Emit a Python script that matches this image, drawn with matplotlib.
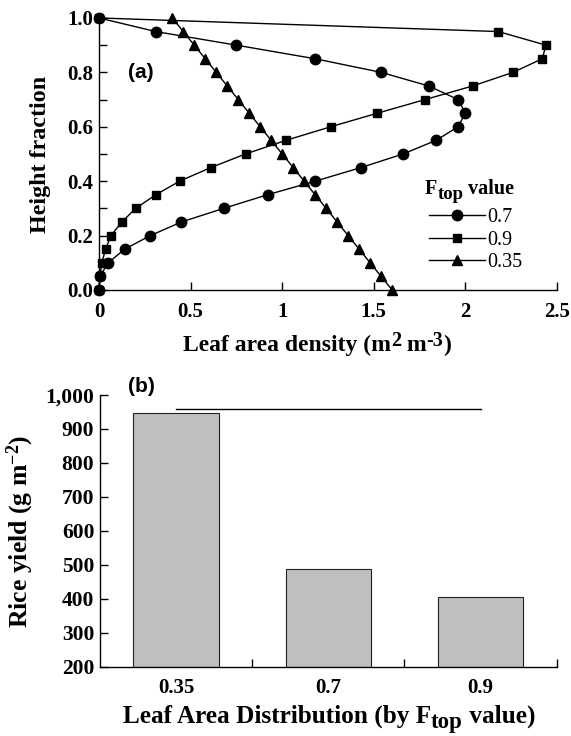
import matplotlib
matplotlib.use("Agg")
import matplotlib.pyplot as plt
from matplotlib.ticker import FixedLocator, FuncFormatter

# -----------------------------
# DATA
# -----------------------------
height = [0.0, 0.05, 0.1, 0.15, 0.2, 0.25, 0.3, 0.35, 0.4, 0.45, 0.5,
          0.55, 0.6, 0.65, 0.7, 0.75, 0.8, 0.85, 0.9, 0.95, 1.0]
lad_07 = [0.0, 0.005, 0.05, 0.14, 0.28, 0.45, 0.68, 0.92, 1.18, 1.43, 1.66,
          1.84, 1.96, 2.0, 1.96, 1.80, 1.54, 1.18, 0.75, 0.31, 0.0]
lad_09 = [0.0, 0.005, 0.015, 0.036, 0.065, 0.125, 0.2, 0.31, 0.44, 0.61, 0.80,
          1.02, 1.265, 1.52, 1.78, 2.04, 2.26, 2.42, 2.44, 2.18, 0.0]
lad_035 = [1.60, 1.54, 1.48, 1.42, 1.36, 1.30, 1.24, 1.18, 1.12, 1.06, 1.00,
           0.94, 0.88, 0.82, 0.76, 0.70, 0.64, 0.58, 0.52, 0.46, 0.40]
series_labels = ["0.7", "0.9", "0.35"]

x_ticks_a = [0, 0.5, 1, 1.5, 2, 2.5]
x_ticklabels_a = ["0", "0.5", "1", "1.5", "2", "2.5"]

categories = ["0.35", "0.7", "0.9"]
yield_vals = [946, 488, 406]
sig_line_y = 960

# -----------------------------
# STYLE
# -----------------------------
plt.rcParams['font.family'] = ['Liberation Serif', 'DejaVu Serif']
plt.rcParams['font.weight'] = 'bold'
plt.rcParams['mathtext.fontset'] = 'custom'
plt.rcParams['mathtext.rm'] = 'Liberation Serif:bold'
plt.rcParams['mathtext.bf'] = 'Liberation Serif:bold'
plt.rcParams['mathtext.it'] = 'Liberation Serif:bold'
plt.rcParams['axes.linewidth'] = 1.0


def chained_text(ax, x, y, pieces):
    # pieces: (text, fontsize, vertical shift in points)
    txt, size, dy0 = pieces[0]
    prev = ax.text(x, y, txt, transform=ax.transAxes, fontsize=size,
                   fontweight='bold', va='baseline', ha='left', clip_on=False)
    prev_dy = dy0
    for txt, size, dy in pieces[1:]:
        prev = ax.annotate(txt, xy=(1, 0), xycoords=prev,
                           xytext=(0, dy - prev_dy), textcoords='offset points',
                           fontsize=size, fontweight='bold', va='bottom',
                           ha='left', annotation_clip=False)
        prev_dy = dy


fig = plt.figure(figsize=(5.71, 7.36), dpi=100)
ax1 = fig.add_axes([0.1734, 0.606, 0.802, 0.3696])
ax2 = fig.add_axes([0.175, 0.0938, 0.800, 0.3696])

# -----------------------------
# PANEL (a)
# -----------------------------
kw = dict(color='black', lw=1.0, clip_on=False)
ax1.plot(lad_07, height, marker='o', ms=7.5, label=series_labels[0], **kw)
ax1.plot(lad_09, height, marker='s', ms=6, label=series_labels[1], **kw)
ax1.plot(lad_035, height, marker='^', ms=7.5, label=series_labels[2], **kw)

ax1.set_xlim(0, 2.5)
ax1.set_ylim(0, 1.0)
for s in ['top', 'right']:
    ax1.spines[s].set_visible(False)

ax1.xaxis.set_major_locator(FixedLocator(x_ticks_a))
ax1.set_xticklabels(x_ticklabels_a)
ax1.yaxis.set_major_locator(FixedLocator([0, 0.2, 0.4, 0.6, 0.8, 1.0]))
ax1.yaxis.set_minor_locator(FixedLocator([0.1, 0.3, 0.5, 0.7, 0.9]))
ax1.yaxis.set_major_formatter(FuncFormatter(lambda v, p: f"{v:.1f}"))
ax1.tick_params(axis='x', which='major', direction='in', length=6, width=1,
                labelsize=15, pad=9)
ax1.tick_params(axis='y', which='both', direction='in', length=6, width=1,
                labelsize=15, pad=4)

# x label with raised exponents
chained_text(ax1, 0.183, -0.226, [("Leaf area density (m", 17, 0),
                                  ("2", 14.5, 4), (" m", 17, 0),
                                  ("-3", 14.5, 4), (")", 17, 0)])
ax1.set_ylabel("Height fraction", fontsize=17.3, fontweight='bold', va='center')
ax1.yaxis.set_label_coords(-0.127, 0.5)

ax1.text(0.063, 0.80, "(a)", transform=ax1.transAxes, fontsize=15,
         fontweight='bold', family='Liberation Sans', va='center')

leg = ax1.legend(loc='upper left', bbox_to_anchor=(0.72, 0.30),
                 frameon=False, handlelength=2.8,
                 handletextpad=0.1, labelspacing=0.15, borderpad=0,
                 borderaxespad=0,
                 prop={'family': 'Liberation Serif', 'weight': 'normal',
                       'size': 14.5})
chained_text(ax1, 0.712, 0.353, [("F", 14.5, 0), ("top", 13.5, -3),
                                 (" value", 14.5, 0)])

# -----------------------------
# PANEL (b)
# -----------------------------
xpos = list(range(len(categories)))
ax2.bar(xpos, [v - 200 for v in yield_vals], bottom=200, width=0.56,
        color='#bfbfbf', edgecolor='#222222', linewidth=0.8, zorder=2)
ax2.plot([xpos[0], xpos[-1]], [sig_line_y, sig_line_y], color='black',
         lw=1.0, clip_on=False)

ax2.set_xlim(-0.5, 2.5)
ax2.set_ylim(200, 1000)
for s in ['top', 'right']:
    ax2.spines[s].set_visible(False)

ax2.set_xticks(xpos)
ax2.set_xticklabels(categories)
ax2.xaxis.set_minor_locator(FixedLocator([0.5, 1.5, 2.5]))
ax2.tick_params(axis='x', which='major', length=0, labelsize=15, pad=8)
ax2.tick_params(axis='x', which='minor', direction='in', length=6, width=1)
ax2.yaxis.set_major_locator(FixedLocator(list(range(200, 1001, 100))))
ax2.yaxis.set_major_formatter(FuncFormatter(lambda v, p: f"{int(v):,}"))
ax2.tick_params(axis='y', which='major', direction='in', length=6, width=1,
                labelsize=15.5, pad=4)

chained_text(ax2, 0.050, -0.206, [("Leaf Area Distribution (by F", 18.2, 0),
                                  ("top", 16.5, -3.5), (" value)", 18.2, 0)])
ax2.set_ylabel(r"Rice yield (g m$^{-2}$)", fontsize=18.5, fontweight='bold',
               va='center')
ax2.yaxis.set_label_coords(-0.175, 0.5)

ax2.text(0.061, 1.03, "(b)", transform=ax2.transAxes, fontsize=15,
         fontweight='bold', family='Liberation Sans', va='center')

fig.savefig("out.png", dpi=100)
